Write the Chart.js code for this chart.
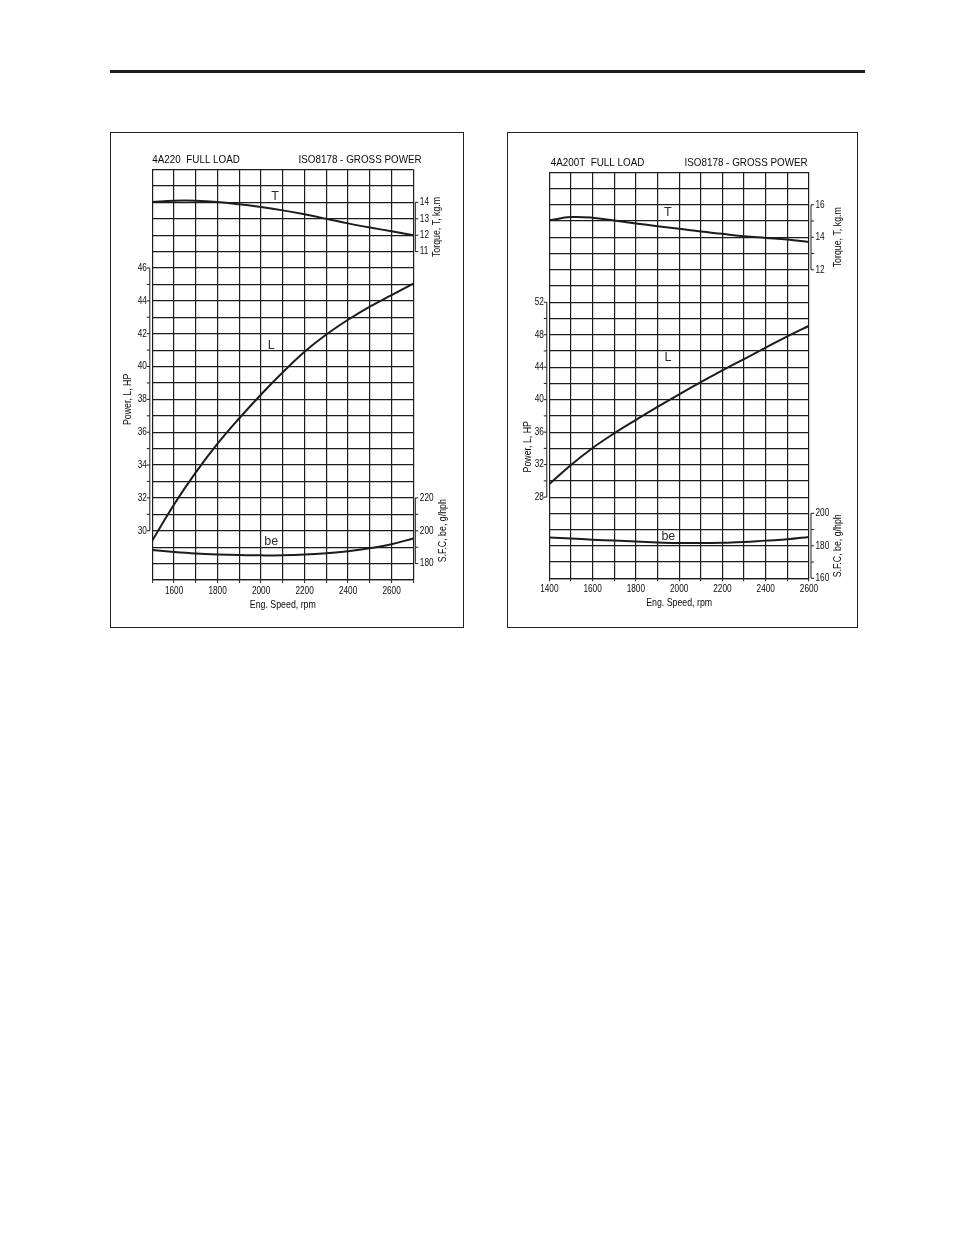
<!DOCTYPE html>
<html>
<head>
<meta charset="utf-8">
<script src="https://cdn.jsdelivr.net/npm/chart.js@4.4.1/dist/chart.umd.min.js"></script>
<style>
html, body { margin: 0; padding: 0; background: #fff; }
body { width: 954px; height: 1235px; position: relative; overflow: hidden; }
.rule { position: absolute; left: 110px; top: 70px; width: 755px; height: 3px; background: #1e1e1e; }
.panel { position: absolute; top: 132px; height: 496px; border: 1px solid #222; box-sizing: border-box; background: #fff; }
#panelA { left: 110px; width: 354px; }
#panelB { left: 507px; width: 351px; }
.panel canvas { position: absolute; left: 0; top: 0; }
</style>
</head>
<body>
<div class="rule"></div>
<div class="panel" id="panelA"><canvas id="chartA" width="352" height="494"></canvas></div>
<div class="panel" id="panelB"><canvas id="chartB" width="349" height="494"></canvas></div>

<script>
// --- 4A220 (left panel) ---
const rpmA    = [1500, 1600, 1700, 1800, 1900, 2000, 2100, 2200, 2300, 2400, 2500, 2600, 2700];
const torqueA = [14.02, 14.1, 14.1, 14.02, 13.88, 13.71, 13.51, 13.27, 13.0, 12.72, 12.47, 12.24, 12.0];
const powerA  = [29.4, 31.6, 33.55, 35.3, 36.85, 38.3, 39.65, 40.9, 41.95, 42.85, 43.65, 44.35, 45.05];
const sfcA    = [188.2, 187.1, 186.2, 185.6, 185.2, 185.0, 185.1, 185.5, 186.3, 187.5, 189.3, 191.8, 195.3];

const speedTicksA  = [1600, 1800, 2000, 2200, 2400, 2600];
const powerTicksA  = [30, 32, 34, 36, 38, 40, 42, 44, 46];
const torqueTicksA = [11, 12, 13, 14];
const sfcTicksA    = [180, 200, 220];

// --- 4A200T (right panel) ---
const rpmB    = [1400, 1500, 1600, 1700, 1800, 1900, 2000, 2100, 2200, 2300, 2400, 2500, 2600];
const torqueB = [15.05, 15.24, 15.2, 15.03, 14.85, 14.68, 14.52, 14.35, 14.21, 14.06, 13.96, 13.86, 13.71];
const powerB  = [29.6, 31.95, 34.05, 35.85, 37.5, 39.1, 40.65, 42.15, 43.6, 45.0, 46.4, 47.8, 49.1];
const sfcB    = [185.1, 184.5, 183.8, 183.2, 182.6, 182.1, 181.7, 181.7, 181.9, 182.3, 183.2, 184.0, 185.5];

const speedTicksB  = [1400, 1600, 1800, 2000, 2200, 2400, 2600];
const powerTicksB  = [28, 32, 36, 40, 44, 48, 52];
const torqueTicksB = [12, 14, 16];
const sfcTicksB    = [160, 180, 200];

const INK = '#1c1c1c';
const TEXT = '#0a0a0a';
const PLAIN = "'Liberation Sans', Arial, sans-serif";
const SQUEEZE = 0.8;   // the printed sheet uses a narrow face

// text drawn narrow, like the printed sheet
function narrow(ctx, text, x, y, size, align, rot, squeeze) {
    ctx.save();
    ctx.translate(x, y);
    if (rot) ctx.rotate(rot);
    ctx.scale(squeeze || SQUEEZE, 1);
    ctx.font = `${size}px ${PLAIN}`;
    ctx.textAlign = align;
    ctx.textBaseline = 'middle';
    ctx.fillText(text, 0, 0);
    ctx.restore();
}

// right-hand bracket axes (torque, s.f.c.)
function sideAxis(ctx, a, scale, ax) {
    const first = ax.ticks[0], last = ax.ticks[ax.ticks.length - 1];
    const yTop = scale.getPixelForValue(last);
    const yBot = scale.getPixelForValue(first);
    const x = a.right + 2;
    ctx.beginPath();
    ctx.moveTo(x, yTop);
    ctx.lineTo(x, yBot);
    for (let v = first; v <= last + 1e-6; v += ax.minor) {
        const y = scale.getPixelForValue(v);
        ctx.moveTo(x, y);
        ctx.lineTo(x + 3, y);
    }
    ctx.stroke();
    ax.ticks.forEach(v => narrow(ctx, String(v), a.right + 6.5, scale.getPixelForValue(v), 10.3, 'left'));
    narrow(ctx, ax.title, a.right + ax.titleDx, (yTop + yBot) / 2, 11, 'center', -Math.PI / 2);
}

const engineAxes = {
    id: 'engineAxes',
    afterDraw(chart, args, o) {
        const { ctx, chartArea: a, scales } = chart;
        ctx.save();
        ctx.strokeStyle = INK;
        ctx.fillStyle = TEXT;
        ctx.lineWidth = 1;

        // header
        narrow(ctx, o.model, a.left + o.modelDx, a.top - o.headerDy, 11.6, 'left', 0, 0.85);
        narrow(ctx, o.standard, a.right + o.standardDx, a.top - o.headerDy, 11.6, 'right', 0, 0.85);

        // power spine on the left
        const p = scales.power;
        const sx = a.left - 2.5;
        ctx.beginPath();
        ctx.moveTo(sx, p.getPixelForValue(o.power.from));
        ctx.lineTo(sx, p.getPixelForValue(o.power.to));
        for (let v = o.power.from; v <= o.power.to + 1e-6; v += o.power.minor) {
            const y = p.getPixelForValue(v);
            ctx.moveTo(sx, y);
            ctx.lineTo(sx - 3, y);
        }
        ctx.stroke();
        o.power.ticks.forEach(v => narrow(ctx, String(v), a.left - 5.5, p.getPixelForValue(v), 10.3, 'right'));
        narrow(ctx, o.power.title, a.left - o.power.titleDx, p.getPixelForValue(o.power.titleAt), 11, 'center', -Math.PI / 2);

        sideAxis(ctx, a, scales.torque, o.torque);
        sideAxis(ctx, a, scales.sfc, o.sfc);

        // speed axis labels and title
        o.speedTicks.forEach(v => narrow(ctx, String(v), scales.x.getPixelForValue(v), a.bottom + 10.7, 10.3, 'center'));
        narrow(ctx, 'Eng. Speed, rpm', (a.left + a.right) / 2, a.bottom + 25, 11, 'center');

        // curve names
        ctx.fillStyle = '#2a2a2a';
        o.curveNames.forEach(c => {
            narrow(ctx, c.text, scales.x.getPixelForValue(c.x), scales[c.axis].getPixelForValue(c.y), 12.5, 'center', 0, 1);
        });
        ctx.restore();
    }
};

function series(xs, ys, axis) {
    return {
        data: xs.map((x, i) => ({ x, y: ys[i] })),
        yAxisID: axis,
        borderColor: INK,
        borderWidth: 2,
        pointRadius: 0,
        fill: false,
        tension: 0.4
    };
}

function makeChart(id, d) {
    const grid = { color: INK, lineWidth: 1.2 };
    return new Chart(document.getElementById(id), {
        type: 'line',
        data: {
            datasets: [
                series(d.rpm, d.torque, 'torque'),
                series(d.rpm, d.power, 'power'),
                series(d.rpm, d.sfc, 'sfc')
            ]
        },
        options: {
            responsive: false,
            animation: false,
            layout: { padding: { top: d.geo.top, right: d.geo.right, bottom: 0, left: 0 } },
            plugins: {
                legend: { display: false },
                tooltip: { enabled: false },
                engineAxes: d.deco
            },
            scales: {
                x: {
                    type: 'linear',
                    min: d.rpm[0],
                    max: d.rpm[d.rpm.length - 1],
                    grid: { ...grid, drawTicks: true, tickLength: 3, tickColor: INK, tickWidth: 1 },
                    border: { display: true, color: INK, width: 1.2 },
                    ticks: { stepSize: 100, autoSkip: false, maxRotation: 0, padding: 3, callback: () => '' },
                    afterFit: s => { s.height = d.geo.xHeight; }
                },
                power: {
                    type: 'linear',
                    position: 'left',
                    min: d.powerRange[0],
                    max: d.powerRange[1],
                    grid: { ...grid, drawTicks: false },
                    border: { display: false },
                    ticks: { stepSize: d.powerStep, autoSkip: false, maxTicksLimit: 100, callback: () => '' },
                    afterFit: s => { s.width = d.geo.yWidth; }
                },
                torque: {
                    type: 'linear',
                    position: 'right',
                    display: false,
                    min: d.torqueRange[0],
                    max: d.torqueRange[1]
                },
                sfc: {
                    type: 'linear',
                    position: 'right',
                    display: false,
                    min: d.sfcRange[0],
                    max: d.sfcRange[1]
                }
            }
        },
        plugins: [engineAxes]
    });
}

makeChart('chartA', {
    rpm: rpmA, torque: torqueA, power: powerA, sfc: sfcA,
    powerRange: [27, 52], powerStep: 1,
    torqueRange: [-9, 16], sfcRange: [170, 420],
    geo: { top: 36.5, right: 49.7, yWidth: 41.3, xHeight: 47 },
    deco: {
        model: '4A220  FULL LOAD', standard: 'ISO8178 - GROSS POWER',
        modelDx: 0, standardDx: 8.4, headerDy: 9.5,
        speedTicks: speedTicksA,
        power: { ticks: powerTicksA, from: 30, to: 46, minor: 1, title: 'Power, L, HP', titleAt: 38, titleDx: 24 },
        torque: { ticks: torqueTicksA, minor: 1, title: 'Torque, T, kg.m', titleDx: 23.4 },
        sfc: { ticks: sfcTicksA, minor: 10, title: 'S.F.C, be, g/hph', titleDx: 30 },
        curveNames: [
            { text: 'T', axis: 'torque', x: 2064, y: 14.35 },
            { text: 'L', axis: 'power', x: 2047, y: 41.3 },
            { text: 'be', axis: 'sfc', x: 2047, y: 193.7 }
        ]
    }
});

makeChart('chartB', {
    rpm: rpmB, torque: torqueB, power: powerB, sfc: sfcB,
    powerRange: [18, 68], powerStep: 2,
    torqueRange: [-7, 18], sfcRange: [160, 410],
    geo: { top: 39.3, right: 48, yWidth: 41.3, xHeight: 48.7 },
    deco: {
        model: '4A200T  FULL LOAD', standard: 'ISO8178 - GROSS POWER',
        modelDx: 1.4, standardDx: -1.3, headerDy: 9.6,
        speedTicks: speedTicksB,
        power: { ticks: powerTicksB, from: 28, to: 52, minor: 2, title: 'Power, L, HP', titleAt: 34.2, titleDx: 21.6 },
        torque: { ticks: torqueTicksB, minor: 1, title: 'Torque, T, kg.m', titleDx: 29.3 },
        sfc: { ticks: sfcTicksB, minor: 10, title: 'S.F.C, be, g/hph', titleDx: 29.3 },
        curveNames: [
            { text: 'T', axis: 'torque', x: 1948, y: 15.53 },
            { text: 'L', axis: 'power', x: 1948, y: 45.16 },
            { text: 'be', axis: 'sfc', x: 1950, y: 185.7 }
        ]
    }
});
</script>
</body>
</html>
